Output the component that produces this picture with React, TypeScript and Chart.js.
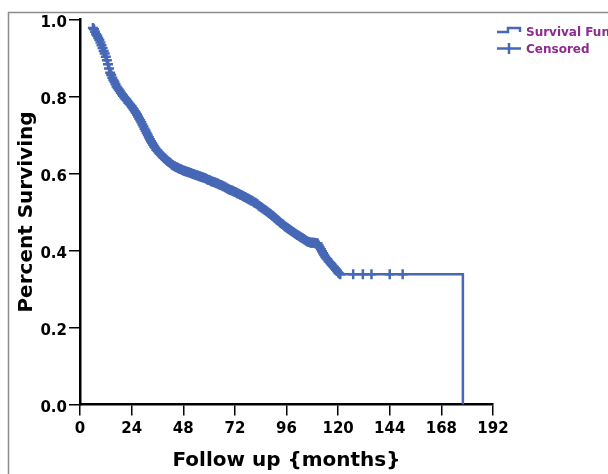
import React, { useEffect, useRef } from 'react';
import { Chart, registerables } from 'chart.js';

Chart.register(...registerables);

// Kaplan–Meier estimate (months, proportion surviving)
const months = [
  6, 6.5, 7, 7.5, 8, 8.5, 9, 9.5, 10, 10.5, 11, 11.5, 12, 12.5, 13, 13.5, 14, 14.5, 15, 15.5,
  16, 16.5, 17, 17.5, 18, 18.5, 19, 19.5, 20, 20.5, 21, 21.5, 22, 22.5, 23, 23.5, 24, 24.5, 25, 25.5,
  26, 26.5, 27, 27.5, 28, 28.5, 29, 29.5, 30, 30.5, 31, 31.5, 32, 32.5, 33, 33.5, 34, 34.5, 35, 35.5,
  36, 36.5, 37, 37.5, 38, 38.5, 39, 39.5, 40, 40.5, 41, 41.5, 42, 42.5, 43, 43.5, 44, 44.5, 45, 45.5,
  46, 46.5, 47, 47.5, 48, 48.5, 49, 49.5, 50, 50.5, 51, 51.5, 52, 52.5, 53, 53.5, 54, 54.5, 55, 55.5,
  56, 56.5, 57, 57.5, 58, 58.5, 59, 59.5, 60, 60.5, 61, 61.5, 62, 62.5, 63, 63.5, 64, 64.5, 65, 65.5,
  66, 66.5, 67, 67.5, 68, 68.5, 69, 69.5, 70, 70.5, 71, 71.5, 72, 72.5, 73, 73.5, 74, 74.5, 75, 75.5,
  76, 76.5, 77, 77.5, 78, 78.5, 79, 79.5, 80, 80.5, 81, 81.5, 82, 82.5, 83, 83.5, 84, 84.5, 85, 85.5,
  86, 86.5, 87, 87.5, 88, 88.5, 89, 89.5, 90, 90.5, 91, 91.5, 92, 92.5, 93, 93.5, 94, 94.5, 95, 95.5,
  96, 96.5, 97, 97.5, 98, 98.5, 99, 99.5, 100, 100.5, 101, 101.5, 102, 102.5, 103, 103.5, 104, 104.5, 105, 105.5,
  106, 106.5, 107, 107.5, 108, 108.5, 109, 109.5, 110, 110.5, 111, 111.5, 112, 112.5, 113, 113.5, 114, 114.5, 115, 115.5,
  116, 116.5, 117, 117.5, 118, 118.5, 119, 119.5, 120, 120.5, 121, 127, 131.5, 135.5, 144, 150, 178,
];
const survival = [
  0.978, 0.975, 0.968, 0.962, 0.958, 0.952, 0.947, 0.94, 0.933, 0.926, 0.918, 0.912, 0.903, 0.894, 0.884, 0.873, 0.862, 0.856, 0.849, 0.843,
  0.838, 0.832, 0.826, 0.822, 0.818, 0.814, 0.81, 0.806, 0.802, 0.799, 0.795, 0.792, 0.788, 0.784, 0.781, 0.778, 0.775, 0.77, 0.766, 0.762,
  0.758, 0.753, 0.748, 0.743, 0.738, 0.733, 0.727, 0.722, 0.716, 0.711, 0.705, 0.7, 0.694, 0.689, 0.684, 0.679, 0.675, 0.67, 0.666, 0.662,
  0.659, 0.655, 0.652, 0.65, 0.647, 0.644, 0.641, 0.638, 0.636, 0.633, 0.631, 0.629, 0.627, 0.624, 0.622, 0.62, 0.619, 0.617, 0.616, 0.614,
  0.613, 0.612, 0.611, 0.609, 0.608, 0.607, 0.606, 0.605, 0.604, 0.603, 0.602, 0.601, 0.6, 0.599, 0.598, 0.597, 0.596, 0.595, 0.594, 0.593,
  0.592, 0.591, 0.59, 0.589, 0.588, 0.587, 0.585, 0.584, 0.583, 0.582, 0.58, 0.579, 0.578, 0.577, 0.576, 0.575, 0.574, 0.572, 0.571, 0.57,
  0.569, 0.567, 0.566, 0.564, 0.563, 0.561, 0.56, 0.558, 0.557, 0.556, 0.555, 0.553, 0.552, 0.551, 0.549, 0.548, 0.547, 0.545, 0.544, 0.542,
  0.541, 0.539, 0.538, 0.536, 0.535, 0.533, 0.532, 0.53, 0.529, 0.527, 0.525, 0.524, 0.522, 0.52, 0.517, 0.515, 0.513, 0.511, 0.509, 0.507,
  0.505, 0.503, 0.501, 0.499, 0.497, 0.495, 0.492, 0.49, 0.488, 0.485, 0.483, 0.48, 0.478, 0.476, 0.473, 0.471, 0.469, 0.467, 0.464, 0.462,
  0.46, 0.458, 0.456, 0.454, 0.452, 0.45, 0.448, 0.446, 0.444, 0.442, 0.44, 0.439, 0.437, 0.435, 0.433, 0.432, 0.43, 0.428, 0.426, 0.424,
  0.423, 0.422, 0.421, 0.42, 0.42, 0.42, 0.42, 0.419, 0.419, 0.418, 0.413, 0.408, 0.403, 0.398, 0.393, 0.388, 0.384, 0.38, 0.377, 0.373,
  0.37, 0.367, 0.363, 0.36, 0.357, 0.354, 0.35, 0.347, 0.343, 0.34, 0.338, 0.338, 0.338, 0.338, 0.338, 0.338, 0,
];
const xTicks = [0, 24, 48, 72, 96, 120, 144, 168, 192];
const yTicks = [0, 0.2, 0.4, 0.6, 0.8, 1.0];
const legendLabels = ['Survival Function', 'Censored'];
const xTitle = 'Follow up {months}';
const yTitle = 'Percent Surviving';

const BLUE = '#4668b6';
const PURPLE = '#8e2a90';
const FONT = "'DejaVu Sans', sans-serif";

const framePlugin = {
  id: 'frame',
  beforeDraw(chart: any) {
    const c = chart.ctx;
    c.save();
    c.fillStyle = '#ffffff';
    c.fillRect(0, 0, chart.width, chart.height);
    c.strokeStyle = '#8c8c8c';
    c.lineWidth = 1.5;
    c.beginPath();
    c.moveTo(chart.width, 12.5);
    c.lineTo(8.5, 12.5);
    c.lineTo(8.5, chart.height);
    c.stroke();
    c.restore();
  },
};

const legendPlugin = {
  id: 'kmLegend',
  afterDraw(chart: any) {
    const c = chart.ctx;
    c.save();
    c.strokeStyle = BLUE;
    c.lineWidth = 2.5;
    // step glyph
    c.beginPath();
    c.moveTo(497, 32);
    c.lineTo(508, 32);
    c.lineTo(508, 28);
    c.lineTo(520, 28);
    c.lineTo(520, 32);
    c.stroke();
    // cross glyph
    c.beginPath();
    c.moveTo(497, 48.5);
    c.lineTo(521, 48.5);
    c.moveTo(509, 43);
    c.lineTo(509, 54);
    c.stroke();
    c.fillStyle = PURPLE;
    c.font = `bold 12px ${FONT}`;
    c.textAlign = 'left';
    c.textBaseline = 'alphabetic';
    c.fillText(legendLabels[0], 526, 36);
    c.fillText(legendLabels[1], 526, 53);
    c.restore();
  },
};

export default function App() {
  const ref = useRef<HTMLCanvasElement>(null);

  useEffect(() => {
    const canvas = ref.current;
    if (!canvas) return;
    const points = months.map((m, i) => ({ x: m, y: survival[i] }));
    const last = points.length - 1;
    const chart = new Chart(canvas, {
      type: 'line',
      data: {
        datasets: [
          {
            label: legendLabels[0],
            data: points,
            stepped: true,
            borderColor: BLUE,
            borderWidth: 2.5,
            fill: false,
            pointStyle: 'cross',
            pointRadius: (ctx: any) => (ctx.dataIndex === last ? 0 : 5),
            pointBorderColor: BLUE,
            pointBorderWidth: 2.5,
            pointBackgroundColor: BLUE,
          },
        ],
      },
      options: {
        responsive: false,
        animation: false,
        devicePixelRatio: 1,
        layout: { padding: { top: 19.5, right: 115, bottom: 0, left: 0 } },
        plugins: { legend: { display: false }, tooltip: { enabled: false } },
        scales: {
          x: {
            type: 'linear',
            min: 0,
            max: 192,
            afterBuildTicks: (s: any) => {
              s.ticks = xTicks.map((v) => ({ value: v }));
            },
            afterFit: (s: any) => {
              s.height = 69.5;
            },
            grid: {
              display: true,
              drawOnChartArea: false,
              drawTicks: true,
              tickLength: 11,
              color: '#000',
              lineWidth: 1.5,
            },
            border: { display: true, color: '#000', width: 2.5 },
            ticks: {
              color: '#000',
              padding: 5,
              maxRotation: 0,
              autoSkip: false,
              font: { family: FONT, size: 15, weight: 'bold' },
              callback: (v: any) => String(v),
            },
            title: {
              display: true,
              text: xTitle,
              color: '#000',
              font: { family: FONT, size: 20, weight: 'bold' },
              padding: { top: 0, bottom: 1 },
            },
          },
          y: {
            type: 'linear',
            min: 0,
            max: 1,
            afterBuildTicks: (s: any) => {
              s.ticks = yTicks.map((v) => ({ value: v }));
            },
            afterFit: (s: any) => {
              s.width = 80;
            },
            grid: {
              display: true,
              drawOnChartArea: false,
              drawTicks: true,
              tickLength: 11,
              color: '#000',
              lineWidth: 1.5,
            },
            border: { display: true, color: '#000', width: 2.5 },
            ticks: {
              color: '#000',
              padding: 2,
              labelOffset: 4,
              autoSkip: false,
              font: { family: FONT, size: 15, weight: 'bold' },
              callback: (v: any) => Number(v).toFixed(1),
            },
            title: {
              display: true,
              text: yTitle,
              color: '#000',
              font: { family: FONT, size: 20, weight: 'bold' },
              padding: { top: 15, bottom: 0 },
            },
          },
        },
      },
      plugins: [framePlugin, legendPlugin],
    } as any);
    return () => chart.destroy();
  }, []);

  return (
    <div style={{ position: 'absolute', left: 0, top: 0, width: 608, height: 474 }}>
      <canvas ref={ref} width={608} height={474} style={{ display: 'block', width: 608, height: 474 }} />
    </div>
  );
}
